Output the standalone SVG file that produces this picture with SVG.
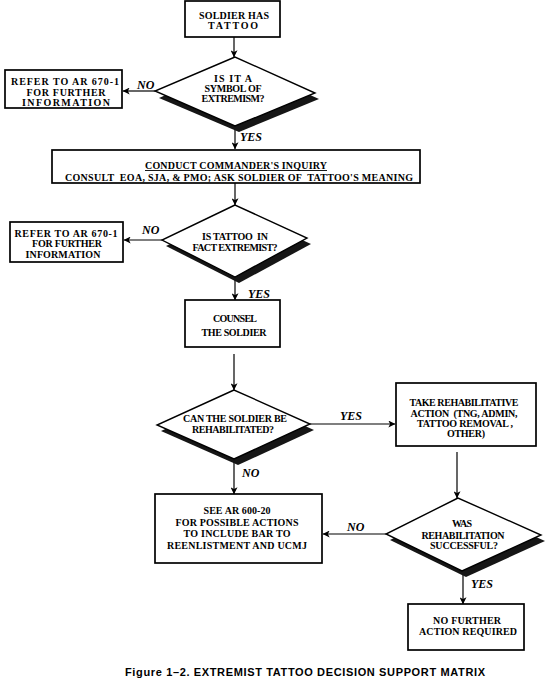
<svg xmlns="http://www.w3.org/2000/svg" width="546" height="683" viewBox="0 0 546 683">
<defs>
<marker id="ah" viewBox="0 0 10 10" refX="9.5" refY="5" markerWidth="8" markerHeight="7" markerUnits="userSpaceOnUse" orient="auto">
<path d="M0,0 L10,5 L0,10 L2.5,5 z" fill="#000"/>
</marker>
</defs>
<style>
.box{fill:#fff;stroke:#000;stroke-width:1.7}
.dia{fill:#fff;stroke:#000;stroke-width:1.4}
.sh{fill:#161616}
.t{font-family:"Liberation Serif","Times New Roman",serif;font-weight:bold;font-size:10px;fill:#000;text-anchor:middle}
.lbl{font-family:"Liberation Serif","Times New Roman",serif;font-weight:bold;font-style:italic;font-size:12px;fill:#000}
.cap{font-family:"Liberation Sans",Arial,sans-serif;font-weight:bold;font-size:11px;fill:#000;text-anchor:middle}
.c{fill:none;stroke:#000;stroke-width:1.2;marker-end:url(#ah)}
</style>
<rect width="546" height="683" fill="#fff"/>

<g id="connectors">
<line class="c" x1="234" y1="37" x2="234" y2="57"/>
<line class="c" x1="155" y1="91" x2="123" y2="91"/>
<line class="c" x1="235" y1="127" x2="235" y2="149"/>
<line class="c" x1="235" y1="183" x2="235" y2="205"/>
<line class="c" x1="162" y1="240" x2="124" y2="240"/>
<line class="c" x1="235" y1="277" x2="235" y2="300"/>
<line class="c" x1="234" y1="354" x2="234" y2="390"/>
<line class="c" x1="310" y1="424" x2="395" y2="424"/>
<line class="c" x1="234" y1="460" x2="234" y2="494"/>
<line class="c" x1="457" y1="452" x2="457" y2="498"/>
<line class="c" x1="386" y1="534" x2="323" y2="534"/>
<line class="c" x1="463" y1="572" x2="463" y2="604"/>
<text class="lbl" x="137" y="89">NO</text>
<text class="lbl" x="240" y="141">YES</text>
<text class="lbl" x="142" y="234">NO</text>
<text class="lbl" x="248" y="297.5">YES</text>
<text class="lbl" x="340" y="420">YES</text>
<text class="lbl" x="242" y="477">NO</text>
<text class="lbl" x="347" y="531">NO</text>
<text class="lbl" x="471" y="588">YES</text>
</g>

<g id="soldier-has-tattoo">
<rect class="box" x="185" y="1" width="95" height="36"/>
<text class="t" x="234" y="18.5" textLength="70">SOLDIER HAS</text>
<text class="t" x="233" y="29" textLength="50">TATTOO</text>
</g>

<g id="symbol-of-extremism">
<polygon class="sh" points="239,63 159,98 239,132 319,99"/>
<polygon class="dia" points="235,57 155,91 235,126 315,93"/>
<text class="t" x="233" y="82" textLength="38">IS IT A</text>
<text class="t" x="233" y="92" textLength="57">SYMBOL OF</text>
<text class="t" x="233" y="102" textLength="63">EXTREMISM?</text>
</g>

<g id="refer-1">
<rect class="box" x="5" y="70" width="117" height="38"/>
<text class="t" x="65" y="84.5" textLength="108">REFER TO AR 670-1</text>
<text class="t" x="66" y="95.5" textLength="79">FOR FURTHER</text>
<text class="t" x="66" y="106" textLength="88">INFORMATION</text>
</g>

<g id="commanders-inquiry">
<rect class="box" x="52" y="150" width="368" height="33"/>
<text class="t" x="236" y="168.5" textLength="182">CONDUCT COMMANDER'S INQUIRY</text>
<line x1="145" y1="170.5" x2="327" y2="170.5" stroke="#000" stroke-width="0.9"/>
<text class="t" x="239" y="180.5" textLength="348" xml:space="preserve">CONSULT  EOA, SJA, &amp; PMO; ASK SOLDIER OF  TATTOO'S MEANING</text>
</g>

<g id="in-fact-extremist">
<polygon class="sh" points="239,211 166,246 239,283 311,244"/>
<polygon class="dia" points="235,205 162,240 235,277 307,238"/>
<text class="t" x="235" y="239.5" textLength="66" xml:space="preserve">IS TATTOO  IN</text>
<text class="t" x="235" y="250.5" textLength="85">FACT EXTREMIST?</text>
</g>

<g id="refer-2">
<rect class="box" x="10" y="222" width="113" height="40"/>
<text class="t" x="66" y="236.5" textLength="103">REFER TO AR 670-1</text>
<text class="t" x="67" y="247" textLength="70">FOR FURTHER</text>
<text class="t" x="63" y="257.5" textLength="75">INFORMATION</text>
</g>

<g id="counsel">
<rect class="box" x="185" y="300" width="95" height="47"/>
<text class="t" x="235" y="321.5" textLength="44">COUNSEL</text>
<text class="t" x="234" y="335.5" textLength="65">THE SOLDIER</text>
</g>

<g id="can-be-rehabilitated">
<polygon class="sh" points="238,396 161,431 238,465 314,430"/>
<polygon class="dia" points="234,390 157,425 234,459 310,424"/>
<text class="t" x="235" y="421.5" textLength="104">CAN THE SOLDIER BE</text>
<text class="t" x="233" y="432.5" textLength="82">REHABILITATED?</text>
</g>

<g id="rehabilitative-action">
<rect class="box" x="396" y="383" width="140" height="63"/>
<text class="t" x="464" y="405.5" textLength="109">TAKE REHABILITATIVE</text>
<text class="t" x="464" y="416.5" textLength="107" xml:space="preserve">ACTION  (TNG, ADMIN,</text>
<text class="t" x="465" y="426.5" textLength="96">TATTOO REMOVAL ,</text>
<text class="t" x="466" y="436.5" textLength="38">OTHER)</text>
</g>

<g id="see-ar-600-20">
<rect class="box" x="155" y="494" width="167" height="69"/>
<text class="t" x="237" y="513.5" textLength="67">SEE AR 600-20</text>
<text class="t" x="237" y="525.5" textLength="123">FOR POSSIBLE ACTIONS</text>
<text class="t" x="237" y="536.5" textLength="107">TO INCLUDE BAR TO</text>
<text class="t" x="237" y="548.5" textLength="140">REENLISTMENT AND UCMJ</text>
</g>

<g id="rehab-successful">
<polygon class="sh" points="462,504 390,540 466,577 545,541"/>
<polygon class="dia" points="458,498 386,534 462,571 541,535"/>
<text class="t" x="462" y="526.5" textLength="20">WAS</text>
<text class="t" x="463" y="538.5" textLength="83">REHABILITATION</text>
<text class="t" x="464" y="548.5" textLength="68">SUCCESSFUL?</text>
</g>

<g id="no-further-action">
<rect class="box" x="408" y="604" width="116" height="46"/>
<text class="t" x="467" y="623.5" textLength="68">NO FURTHER</text>
<text class="t" x="468" y="635" textLength="98">ACTION REQUIRED</text>
</g>

<text class="cap" x="305" y="675.5" textLength="360">Figure 1–2. EXTREMIST TATTOO DECISION SUPPORT MATRIX</text>
</svg>
